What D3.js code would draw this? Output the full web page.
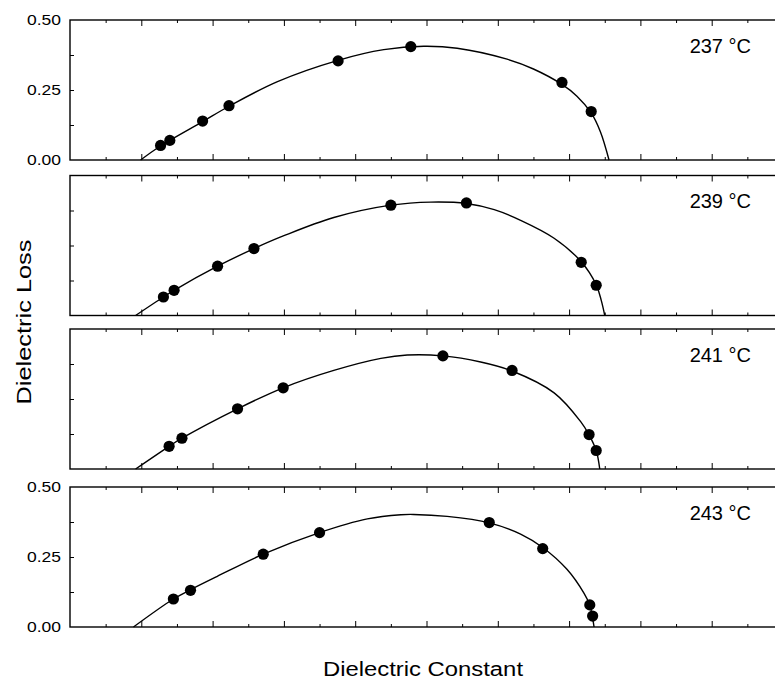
<!DOCTYPE html>
<html>
<head>
<meta charset="utf-8">
<script src="https://cdn.jsdelivr.net/npm/d3@7"></script>
<style>
body { margin: 0; background: #fff; }
svg { display: block; }
</style>
</head>
<body>
<svg id="chart" width="775" height="680"></svg>
<script>
// temperatures, one panel each
const temps = ["237 °C", "239 °C", "241 °C", "243 °C"];

// measured points [dielectric constant (axis units), dielectric loss]
const dots237 = [[1.27, 0.052], [1.40, 0.070], [1.86, 0.139], [2.23, 0.194], [3.76, 0.354], [4.78, 0.405], [6.90, 0.277], [7.31, 0.173]];
const dots239 = [[1.31, 0.066], [1.46, 0.090], [2.07, 0.176], [2.58, 0.239], [4.50, 0.394], [5.56, 0.402], [7.17, 0.190], [7.38, 0.108]];
const dots241 = [[1.39, 0.081], [1.57, 0.110], [2.35, 0.215], [2.99, 0.290], [5.23, 0.404], [6.20, 0.352], [7.28, 0.123], [7.38, 0.066]];
const dots243 = [[1.45, 0.100], [1.69, 0.131], [2.71, 0.260], [3.50, 0.337], [5.88, 0.373], [6.63, 0.280], [7.29, 0.079], [7.33, 0.039]];

// fitted arcs
const fit237 = [[0.99, 0], [1.27, 0.050], [1.86, 0.137], [2.23, 0.192], [2.91, 0.280], [3.76, 0.356], [4.40, 0.394], [4.96, 0.406], [5.43, 0.399], [6.13, 0.360], [6.50, 0.325], [6.90, 0.270], [7.11, 0.228], [7.31, 0.168], [7.44, 0.100], [7.56, 0]];
const fit239 = [[0.92, 0], [1.31, 0.066], [1.46, 0.090], [2.07, 0.176], [2.58, 0.239], [3.00, 0.285], [3.70, 0.350], [4.50, 0.394], [5.06, 0.405], [5.56, 0.400], [5.95, 0.378], [6.32, 0.340], [6.79, 0.276], [7.17, 0.192], [7.38, 0.110], [7.45, 0.055], [7.50, 0]];
const fit241 = [[0.92, 0], [1.39, 0.081], [1.57, 0.110], [2.35, 0.215], [2.99, 0.290], [3.70, 0.352], [4.36, 0.395], [4.73, 0.407], [5.23, 0.404], [5.76, 0.382], [6.20, 0.350], [6.79, 0.272], [7.16, 0.170], [7.28, 0.122], [7.38, 0.066], [7.43, 0]];
const fit243 = [[0.89, 0], [1.45, 0.100], [1.69, 0.133], [2.06, 0.180], [2.71, 0.260], [3.50, 0.337], [4.17, 0.386], [4.64, 0.401], [4.82, 0.402], [5.29, 0.395], [5.88, 0.372], [6.32, 0.332], [6.63, 0.284], [6.97, 0.206], [7.21, 0.120], [7.29, 0.078], [7.35, 0]];

const yTicks = [0, 0.25, 0.5];
const yMinor = [0.125, 0.25, 0.375];
const xTicks = [1, 2, 3, 4, 5, 6, 7, 8, 9];
const xMinor = [0.5, 1.5, 2.5, 3.5, 4.5, 5.5, 6.5, 7.5, 8.5, 9.5];

var panels = [
    {label: temps[0], dots: dots237, fit: fit237, yLabels: true},
    {label: temps[1], dots: dots239, fit: fit239, yLabels: false},
    {label: temps[2], dots: dots241, fit: fit241, yLabels: false},
    {label: temps[3], dots: dots243, fit: fit243, yLabels: true}
];

var tops = [20, 175.5, 329, 487];
var panelH = 140;

var svg = d3.select('#chart');

var x = d3.scaleLinear().domain([0, 10]).range([70, 783]);
var y = d3.scaleLinear().domain([0, 0.5]).range([panelH, 0]);

var fitLine = d3.line().curve(d3.curveCatmullRom.alpha(0.5))
.x(function(d) { return x(d[0]); })
.y(function(d) { return y(d[1]); });

panels.forEach(function(p, i) {
    var g = svg.append('g').attr('transform', `translate(0,${tops[i]})`);

    // bottom / top ticks point inward
    g.append('g').attr('class', 'ax').attr('transform', `translate(0,${panelH})`)
        .call(d3.axisBottom(x).tickValues(xTicks).tickSizeInner(-6).tickSizeOuter(0).tickFormat(''));
    g.append('g').attr('class', 'ax').attr('transform', `translate(0,${panelH})`)
        .call(d3.axisBottom(x).tickValues(xMinor).tickSizeInner(-3).tickSizeOuter(0).tickFormat(''));
    g.append('g').attr('class', 'ax')
        .call(d3.axisTop(x).tickValues(xTicks).tickSizeInner(-6).tickSizeOuter(0).tickFormat(''));
    g.append('g').attr('class', 'ax')
        .call(d3.axisTop(x).tickValues(xMinor).tickSizeInner(-3).tickSizeOuter(0).tickFormat(''));
    g.append('g').attr('class', 'ax').attr('transform', `translate(${x(0)},0)`)
        .call(d3.axisLeft(y).tickValues(yMinor).tickSizeInner(-4).tickSizeOuter(0).tickFormat(''));

    if (p.yLabels) {
        g.append('g').attr('class', 'ax lab').attr('transform', `translate(${x(0)},0)`)
            .call(d3.axisLeft(y).tickValues(yTicks).tickSize(0).tickPadding(9).tickFormat(d3.format('.2f')));
    }

    g.append('rect')
        .attr('x', x(0)).attr('y', 0)
        .attr('width', x(10) - x(0)).attr('height', panelH)
        .attr('fill', 'none').attr('stroke', '#000').attr('stroke-width', 1.4);

    g.append('path').attr('d', fitLine(p.fit))
        .attr('fill', 'none').attr('stroke', '#000').attr('stroke-width', 1.4);

    g.selectAll('circle').data(p.dots).enter().append('circle')
        .attr('cx', function(d) { return x(d[0]); })
        .attr('cy', function(d) { return y(d[1]); })
        .attr('r', 5.6)
        .attr('fill', '#000');

    g.append('text')
        .attr('x', 751).attr('y', 32.5)
        .attr('text-anchor', 'end')
        .attr('font-family', 'Liberation Sans, Arial, sans-serif')
        .attr('font-size', 20)
        .text(p.label);
});

svg.selectAll('.ax .domain').remove();
svg.selectAll('.ax line').attr('stroke', '#000').attr('stroke-width', 1);
svg.selectAll('.lab text')
    .attr('font-family', 'Liberation Sans, Arial, sans-serif')
    .attr('font-size', 14.5)
    .attr('fill', '#000')
    .attr('textLength', 34)
    .attr('lengthAdjust', 'spacingAndGlyphs');

svg.append('text')
    .attr('x', 423).attr('y', 676)
    .attr('text-anchor', 'middle')
    .attr('font-family', 'Liberation Sans, Arial, sans-serif')
    .attr('font-size', 20)
    .attr('textLength', 200)
    .attr('lengthAdjust', 'spacingAndGlyphs')
    .text('Dielectric Constant');

svg.append('text')
    .attr('transform', 'translate(31,322) rotate(-90)')
    .attr('text-anchor', 'middle')
    .attr('font-family', 'Liberation Sans, Arial, sans-serif')
    .attr('font-size', 21)
    .attr('textLength', 165)
    .attr('lengthAdjust', 'spacingAndGlyphs')
    .text('Dielectric Loss');
</script>
</body>
</html>
